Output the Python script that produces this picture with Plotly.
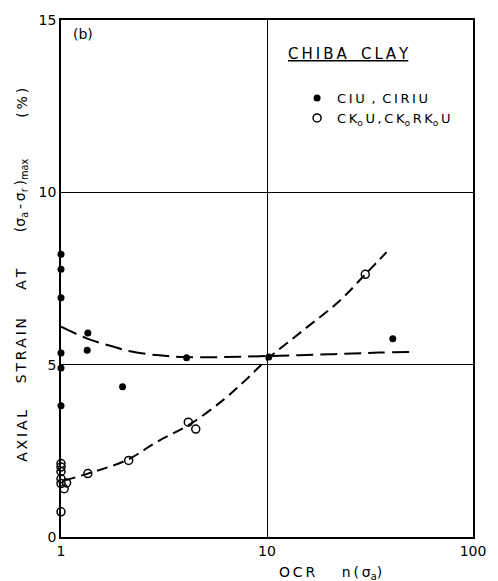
import plotly.graph_objects as go

# Isotropically consolidated tests (CIU, CIRIU)
ciu_ocr = [1, 1, 1, 1, 1, 1, 1.35, 1.34, 1.99, 4.07, 10.2, 40.8]
ciu_strain = [8.2, 7.77, 6.94, 5.34, 4.9, 3.81, 5.92, 5.42, 4.36, 5.2, 5.22, 5.75]

# K0 consolidated tests (CK0U, CK0RK0U)
ck0_ocr = [1, 1, 1, 1, 0.947, 1.0, 1.064, 0.98, 1.036, 1.0, 1.35, 2.13, 4.15, 4.51, 30.0]
ck0_strain = [2.13, 2.03, 1.90, 1.69, 1.52, 1.55, 1.57, 1.38, 1.40, 0.73, 1.84, 2.22, 3.33, 3.13, 7.62]

# Hand-drawn trend lines
ciu_trend_ocr = [1, 1.35, 1.75, 2.2, 3, 4, 6, 10, 20, 35, 49]
ciu_trend_strain = [6.1, 5.75, 5.54, 5.38, 5.27, 5.22, 5.22, 5.25, 5.3, 5.35, 5.37]
ck0_trend_ocr = [1.04, 1.35, 2.1, 2.9, 4.3, 6.2, 7.8, 10, 15, 22.4, 30, 38]
ck0_trend_strain = [1.64, 1.84, 2.24, 2.75, 3.3, 4.0, 4.53, 5.15, 6.0, 6.84, 7.62, 8.26]

x_ticks = [1, 10, 100]
y_ticks = [0, 5, 10, 15]

FONT = "DejaVu Sans"
TS = "\u2009"  # thin space used for letter spacing
NB = "\u00a0"


def spaced(s):
    return TS.join(s)


fig = go.Figure()

fig.add_trace(go.Scatter(
    x=ciu_trend_ocr, y=ciu_trend_strain, mode="lines", line_shape="spline",
    line=dict(color="black", width=2, dash="17px,7px"), showlegend=False,
    hoverinfo="skip"))
fig.add_trace(go.Scatter(
    x=ck0_trend_ocr, y=ck0_trend_strain, mode="lines", line_shape="spline",
    line=dict(color="black", width=2, dash="11px,6px"), showlegend=False,
    hoverinfo="skip"))

fig.add_trace(go.Scatter(
    x=ciu_ocr, y=ciu_strain, mode="markers", cliponaxis=False,
    marker=dict(symbol="circle", size=7, color="black"),
    name=f"{spaced('CIU')}{NB}{TS},{TS}{NB}{spaced('CIRIU')}"))
fig.add_trace(go.Scatter(
    x=ck0_ocr, y=ck0_strain, mode="markers", cliponaxis=False,
    marker=dict(symbol="circle-open", size=8, color="black", line=dict(width=1.5)),
    name=(f"C{TS}K<sub>o</sub>{TS}U{TS},{TS}C{TS}K<sub>o</sub>{TS}R{TS}K<sub>o</sub>{TS}U")))

axis_common = dict(
    showline=True, linecolor="black", linewidth=1.8, mirror=True,
    showgrid=True, gridcolor="black", gridwidth=1.3,
    zeroline=False, ticks="",
    tickfont=dict(family=FONT, size=14, color="black"),
)

fig.update_xaxes(type="log", range=[0, 2], tickvals=x_ticks,
                 ticktext=[str(v) for v in x_ticks], **axis_common)
fig.update_yaxes(range=[0, 15], tickvals=y_ticks,
                 ticktext=[str(v) for v in y_ticks], **axis_common)

ann = []
ann.append(dict(text="(b)", xref="paper", yref="paper", x=0.025, y=0.972,
                xanchor="left", yanchor="middle", showarrow=False,
                font=dict(family=FONT, size=14, color="black")))
ann.append(dict(text=f"<u>{spaced('CHIBA')}{NB}{NB}{NB}{spaced('CLAY')}</u>",
                xref="paper", yref="paper", x=0.547, y=0.935,
                xanchor="left", yanchor="middle", showarrow=False,
                font=dict(family=FONT, size=15, color="black")))

# X axis title
ann.append(dict(text=f"{spaced('OCR')}{NB*6}n{TS}({TS}σ<sub>a</sub>)",
                xref="paper", yref="paper", x=0.655, y=-0.069,
                xanchor="center", yanchor="middle", showarrow=False,
                font=dict(family=FONT, size=14, color="black")))

# Y axis title, word by word
y_words = [
    (spaced("AXIAL"), 435),
    (spaced("STRAIN"), 350),
    (spaced("AT"), 278),
    (f"(σ<sub>a</sub>{TS}-{TS}σ<sub>r</sub>{TS})<sub>max</sub>", 193),
    (f"({TS}%{TS})", 100),
]
for txt, py in y_words:
    ann.append(dict(text=txt, xref="paper", yref="paper",
                    x=(20 - 61) / 424, y=(537 - py) / 520,
                    xanchor="center", yanchor="middle", textangle=-90,
                    showarrow=False, font=dict(family=FONT, size=14, color="black")))

fig.update_layout(
    width=498, height=581,
    margin=dict(l=61, r=13, t=17, b=44),
    paper_bgcolor="white", plot_bgcolor="white",
    annotations=ann,
    showlegend=True,
    legend=dict(x=0.573, y=0.878, xanchor="left", yanchor="top",
                bgcolor="rgba(0,0,0,0)", borderwidth=0,
                font=dict(family=FONT, size=13, color="black"),
                tracegroupgap=0),
)

fig.write_html("out.html")
